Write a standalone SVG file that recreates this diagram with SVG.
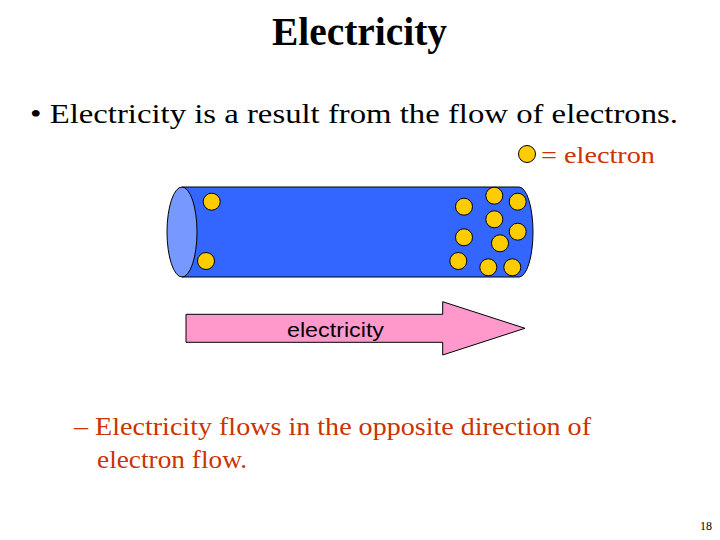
<svg xmlns="http://www.w3.org/2000/svg" width="720" height="540" viewBox="0 0 720 540">
<style>
.t{font-family:"Liberation Serif","Times New Roman",serif;fill:#000}
.r{font-family:"Liberation Serif","Times New Roman",serif;fill:#cc3300}
.e{fill:#ffcc00;stroke:#000;stroke-width:1}
</style>
<rect width="720" height="540" fill="#fff"/>
<text class="t" x="272" y="45" font-size="40" font-weight="bold" textLength="175" lengthAdjust="spacingAndGlyphs">Electricity</text>
<text class="t" x="30" y="123" font-size="28" textLength="648" lengthAdjust="spacingAndGlyphs">• Electricity is a result from the flow of electrons.</text>
<g id="legend">
<circle class="e" cx="527" cy="154" r="8.5"/>
<text class="r" x="541" y="163" font-size="24" textLength="114" lengthAdjust="spacingAndGlyphs">= electron</text>
</g>
<g id="wire">
<path d="M182,187 L519,187 A14,45 0 0 1 519,277 L182,277 Z" fill="#3366ff" stroke="#000" stroke-width="1"/>
<ellipse cx="182" cy="232" rx="15" ry="45" fill="#7799ff" stroke="#000" stroke-width="1"/>
<circle class="e" cx="211.7" cy="201.7" r="8.5"/>
<circle class="e" cx="206" cy="261" r="8.5"/>
<circle class="e" cx="464" cy="206.7" r="8.5"/>
<circle class="e" cx="464" cy="237.3" r="8.5"/>
<circle class="e" cx="458.3" cy="261" r="8.5"/>
<circle class="e" cx="494.3" cy="195.7" r="8.5"/>
<circle class="e" cx="517.7" cy="201.7" r="8.5"/>
<circle class="e" cx="494.3" cy="219.3" r="8.5"/>
<circle class="e" cx="517.7" cy="231.7" r="8.5"/>
<circle class="e" cx="500" cy="243.3" r="8.5"/>
<circle class="e" cx="488.3" cy="267.3" r="8.5"/>
<circle class="e" cx="512.3" cy="267.3" r="8.5"/>
</g>
<g id="arrow">
<path d="M186,314.3 L442.7,314.3 L442.7,301.7 L525,328.3 L442.7,355 L442.7,342.3 L186,342.3 Z" fill="#ff99cc" stroke="#000" stroke-width="1"/>
<text x="287" y="337" font-family="Liberation Sans,Arial,sans-serif" font-size="21" fill="#000" textLength="97" lengthAdjust="spacingAndGlyphs">electricity</text>
</g>
<text class="r" x="74" y="435" font-size="25" textLength="517" lengthAdjust="spacingAndGlyphs">– Electricity flows in the opposite direction of</text>
<text class="r" x="97" y="468" font-size="25" textLength="150" lengthAdjust="spacingAndGlyphs">electron flow.</text>
<text class="t" x="700" y="530" font-size="12" textLength="12" lengthAdjust="spacingAndGlyphs">18</text>
</svg>
